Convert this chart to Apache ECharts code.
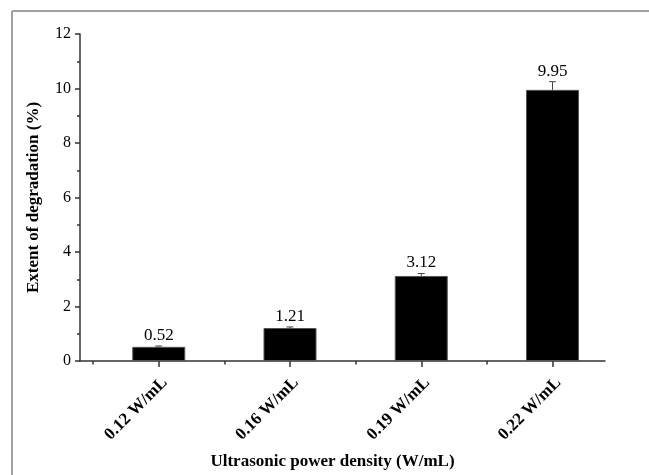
<!DOCTYPE html>
<html>
<head>
<meta charset="utf-8">
<script src="https://cdn.jsdelivr.net/npm/echarts@6/dist/echarts.min.js"></script>
<style>html,body{margin:0;padding:0;background:#fff;}#c{width:649px;height:475px;}</style>
</head>
<body>
<div id="c"></div>
<script>
const categories = ['0.12 W/mL', '0.16 W/mL', '0.19 W/mL', '0.22 W/mL'];
const degradation = [0.52, 1.21, 3.12, 9.95];
const errors = [0.03, 0.04, 0.09, 0.30];
const yTicks = [0, 2, 4, 6, 8, 10, 12];

const SERIF = "'Liberation Serif', 'Times New Roman', serif";
const positions = categories.map((c, i) => i);
const bounds = categories.map((c, i) => i - 0.5);

const chart = echarts.init(document.getElementById('c'), null, {renderer: 'canvas'});
chart.setOption({
  backgroundColor: '#fff',
  animation: false,
  graphic: [
    {type: 'line', shape: {x1: 12, y1: 11, x2: 649, y2: 11}, style: {stroke: '#a0a0a0', lineWidth: 2}},
    {type: 'line', shape: {x1: 12, y1: 11, x2: 12, y2: 475}, style: {stroke: '#a0a0a0', lineWidth: 2}}
  ],
  grid: {left: 80, right: 44, top: 34, bottom: 114, containLabel: false},
  xAxis: [{
    type: 'value', min: -0.6, max: 3.4, position: 'bottom',
    name: 'Ultrasonic power density (W/mL)', nameLocation: 'middle', nameGap: 92,
    nameTextStyle: {fontFamily: SERIF, fontWeight: 'bold', fontSize: 17, color: '#000', padding: [0, 20, 0, 0]},
    axisLine: {show: true, onZero: false, lineStyle: {color: '#333', width: 1.5}},
    axisTick: {show: true, inside: false, length: 6, customValues: positions, lineStyle: {color: '#333', width: 1.5}},
    axisLabel: {
      show: true, rotate: 45, margin: 13, customValues: positions,
      formatter: v => categories[Math.round(v)],
      fontFamily: SERIF, fontWeight: 'bold', fontSize: 17, color: '#000',
      align: 'right', verticalAlign: 'top'
    },
    splitLine: {show: false}
  }, {
    type: 'value', min: -0.6, max: 3.4, position: 'bottom',
    axisLine: {show: false, onZero: false},
    axisTick: {show: true, inside: false, length: 3.5, customValues: bounds, lineStyle: {color: '#333', width: 1.5}},
    axisLabel: {show: false},
    splitLine: {show: false}
  }],
  yAxis: {
    type: 'value', min: 0, max: 12, interval: 2,
    name: 'Extent of degradation (%)', nameLocation: 'middle', nameGap: 38,
    nameTextStyle: {fontFamily: SERIF, fontWeight: 'bold', fontSize: 17, color: '#000'},
    axisLine: {show: true, onZero: false, lineStyle: {color: '#333', width: 1.5}},
    axisTick: {show: true, inside: false, length: 5, lineStyle: {color: '#333', width: 1.5}},
    minorTick: {show: true, splitNumber: 2, length: 3, lineStyle: {color: '#333', width: 1.5}},
    axisLabel: {
      margin: 9, fontFamily: SERIF, fontSize: 16, color: '#000',
      customValues: yTicks
    },
    splitLine: {show: false}
  },
  series: [{
    type: 'bar', xAxisIndex: 0,
    data: degradation.map((v, i) => [positions[i], v]),
    barWidth: 53,
    itemStyle: {color: '#000', borderColor: '#555', borderWidth: 1}
  }, {
    type: 'custom', xAxisIndex: 0, clip: false, z: 5,
    data: degradation.map((v, i) => [positions[i], v, errors[i]]),
    renderItem: function (params, api) {
      const x = api.value(0), y = api.value(1), e = api.value(2);
      const base = api.coord([x, y]);
      const top = api.coord([x, y + e]);
      const st = {stroke: '#444', lineWidth: 1};
      return {
        type: 'group',
        children: [
          {type: 'line', shape: {x1: top[0], y1: base[1], x2: top[0], y2: top[1]}, style: st},
          {type: 'line', shape: {x1: top[0] - 3.5, y1: top[1], x2: top[0] + 3.5, y2: top[1]}, style: st},
          {type: 'text', style: {
            text: y.toFixed(2), x: top[0], y: top[1] - 2,
            align: 'center', verticalAlign: 'bottom',
            font: '17px ' + SERIF, fill: '#000'
          }}
        ]
      };
    }
  }]
});
</script>
</body>
</html>
